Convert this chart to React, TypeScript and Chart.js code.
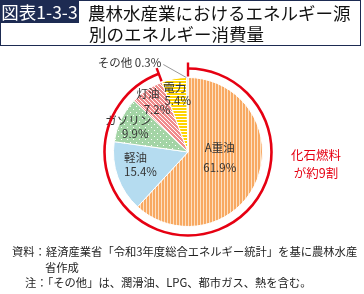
import React, { useEffect, useRef } from 'react';
import { Chart, registerables } from 'chart.js';

Chart.register(...registerables);

const categories = ['A重油', '軽油', 'ガソリン', '灯油', '電力', 'その他'];
const values = [61.9, 15.4, 9.9, 7.2, 5.4, 0.3];
const valueLabels = ['61.9%', '15.4%', '9.9%', '7.2%', '5.4%', '0.3%'];
const fossilCount = 4; // A重油〜灯油
const titleLines = ['農林水産業におけるエネルギー源', '別のエネルギー消費量'];
const figureNo = '図表1-3-3';
const noteLines = [
  '資料：経済産業省「令和3年度総合エネルギー統計」を基に農林水産',
  '省作成',
  '注：「その他」は、潤滑油、LPG、都市ガス、熱を含む。',
];
const fossilNote = ['化石燃料', 'が約9割'];

const FONT = '"Noto Sans CJK JP", "Noto Sans", sans-serif';
const NAVY = '#1d2b52';
const RED = '#e60012';

// label placement (style): radius fraction, angle shift (deg), line gap, line2 dx
const labelFrac = [0.433, 0.693, 0.824, 0.833, 0.795];
const labelShift = [-11.6, 5.4, -2.1, -1.5, -0.7];
const labelGap = [20, 13.5, 12.5, 16, 13];
const labelDx = [0, 5, 7, 9, 3];

function makePattern(w: number, h: number, draw: (g: CanvasRenderingContext2D) => void): CanvasPattern | string {
  const c = document.createElement('canvas');
  c.width = w;
  c.height = h;
  const g = c.getContext('2d');
  if (!g) return '#ccc';
  draw(g);
  const p = g.createPattern(c, 'repeat');
  return p || '#ccc';
}

function buildFills(): (CanvasPattern | string)[] {
  const orange = makePattern(3, 1, (g) => {
    g.fillStyle = '#fde0c2';
    g.fillRect(0, 0, 3, 1);
    g.fillStyle = '#f8a962';
    g.fillRect(0, 0, 2, 1);
  });
  const blue = '#b5dcf0';
  const green = makePattern(6, 6, (g) => {
    g.fillStyle = '#a3d4a5';
    g.fillRect(0, 0, 6, 6);
    g.fillStyle = '#ffffff';
    g.fillRect(1, 1, 1, 1);
    g.fillRect(4, 4, 1, 1);
  });
  const pink = makePattern(4, 4, (g) => {
    g.fillStyle = '#f08d8d';
    g.fillRect(0, 0, 4, 4);
    g.fillStyle = '#ffffff';
    for (let i = 0; i < 4; i++) g.fillRect(i, i, 1, 1);
  });
  const yellow = makePattern(1, 3, (g) => {
    g.fillStyle = '#ffffff';
    g.fillRect(0, 0, 1, 3);
    g.fillStyle = '#ffd400';
    g.fillRect(0, 0, 1, 2);
  });
  const gray = '#dcdcdc';
  return [orange, blue, green, pink, yellow, gray];
}

const labelPlugin = {
  id: 'pieLabels',
  afterDatasetsDraw(chart: any) {
    const ctx: CanvasRenderingContext2D = chart.ctx;
    const meta = chart.getDatasetMeta(0);
    const arcs = meta.data;
    if (!arcs.length) return;
    const a0 = arcs[0].getProps(['x', 'y', 'outerRadius', 'startAngle'], true);
    const cx = a0.x;
    const cy = a0.y;
    const R = a0.outerRadius;

    ctx.save();
    ctx.fillStyle = '#333333';
    ctx.textAlign = 'center';
    ctx.textBaseline = 'middle';
    ctx.font = `11.5px ${FONT}`;
    for (let i = 0; i < 5; i++) {
      const p = arcs[i].getProps(['startAngle', 'endAngle'], true);
      const mid = (p.startAngle + p.endAngle) / 2 + (labelShift[i] * Math.PI) / 180;
      const r = labelFrac[i] * R;
      const bx = cx + Math.cos(mid) * r;
      const by = cy + Math.sin(mid) * r;
      ctx.fillText(categories[i], bx - labelDx[i] / 2, by - labelGap[i] / 2);
      ctx.fillText(valueLabels[i], bx + labelDx[i] / 2, by + labelGap[i] / 2);
    }

    // その他 with leader line
    const po = arcs[5].getProps(['startAngle', 'endAngle'], true);
    const omid = (po.startAngle + po.endAngle) / 2;
    const ex = cx + Math.cos(omid) * R;
    const ey = cy + Math.sin(omid) * R;
    const tx = ex - 22;
    const ty = ey - 11;
    ctx.strokeStyle = '#999999';
    ctx.lineWidth = 1;
    ctx.beginPath();
    ctx.moveTo(tx - 2, ty - 2);
    ctx.lineTo(ex - 1, ey);
    ctx.stroke();
    ctx.textAlign = 'right';
    ctx.fillText(`${categories[5]} ${valueLabels[5]}`, tx - 4, ty - 4);

    // red ring around fossil fuels
    const first = arcs[0].getProps(['startAngle'], true).startAngle;
    const last = arcs[fossilCount - 1].getProps(['endAngle'], true).endAngle;
    const ringR = R + 9;
    ctx.strokeStyle = RED;
    ctx.lineWidth = 2.6;
    ctx.lineCap = 'butt';
    ctx.beginPath();
    ctx.arc(cx, cy, ringR, first, last, false);
    ctx.stroke();
    ctx.lineWidth = 2.4;
    for (const ang of [first, last]) {
      ctx.beginPath();
      ctx.moveTo(cx + Math.cos(ang) * (R + 1), cy + Math.sin(ang) * (R + 1));
      ctx.lineTo(cx + Math.cos(ang) * (R + 15), cy + Math.sin(ang) * (R + 15));
      ctx.stroke();
    }
    ctx.restore();
  },
};

export default function App() {
  const ref = useRef<HTMLCanvasElement | null>(null);

  useEffect(() => {
    if (!ref.current) return;
    const chart = new Chart(ref.current, {
      type: 'pie',
      data: {
        labels: categories,
        datasets: [
          {
            data: values,
            backgroundColor: buildFills() as any,
            borderColor: '#ffffff',
            borderWidth: 1,
          },
        ],
      },
      options: {
        animation: false,
        responsive: false,
        devicePixelRatio: window.devicePixelRatio || 1,
        layout: { padding: { left: 113, right: 101, top: 77, bottom: 67 } },
        plugins: {
          legend: { display: false },
          tooltip: { enabled: false },
        },
      },
      plugins: [labelPlugin],
    });
    return () => chart.destroy();
  }, []);

  const abs = (o: React.CSSProperties): React.CSSProperties => ({ position: 'absolute', whiteSpace: 'nowrap', ...o });

  return (
    <div style={{ position: 'absolute', left: 0, top: 0, width: 364, height: 294, background: '#fff', fontFamily: FONT, overflow: 'hidden' }}>
      <canvas ref={ref} width={364} height={294} style={{ position: 'absolute', left: 0, top: 0, width: 364, height: 294 }} />
      <div style={abs({ left: 0, top: 0, width: 359, height: 44, border: `1.5px solid ${NAVY}` })} />
      <div style={abs({ left: 0, top: 0, width: 79, height: 23, background: NAVY, color: '#fff', fontSize: 17.5, lineHeight: '23px', textAlign: 'center' })}>{figureNo}</div>
      <div style={abs({ left: 88, top: 2.5, fontSize: 17.5, lineHeight: '20px', color: '#111' })}>{titleLines[0]}</div>
      <div style={abs({ left: 89, top: 23.5, fontSize: 17.5, lineHeight: '20px', color: '#111' })}>{titleLines[1]}</div>
      <div style={abs({ left: 285, top: 146, width: 62, textAlign: 'center', fontSize: 12.5, lineHeight: '18px', color: RED })}>
        {fossilNote[0]}
        <br />
        {fossilNote[1]}
      </div>
      <div style={abs({ left: 12, top: 243, fontSize: 11.3, lineHeight: '16px', color: '#222' })}>{noteLines[0]}</div>
      <div style={abs({ left: 45, top: 259, fontSize: 11.3, lineHeight: '16px', color: '#222' })}>{noteLines[1]}</div>
      <div style={abs({ left: 25, top: 273.5, fontSize: 11.3, lineHeight: '16px', color: '#222' })}>{noteLines[2]}</div>
    </div>
  );
}
